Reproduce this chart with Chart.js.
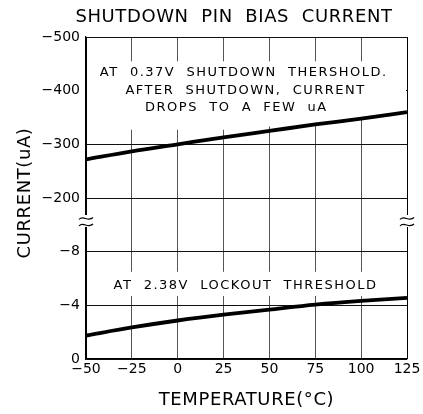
<!DOCTYPE html>
<html>
<head>
<meta charset="utf-8">
<script src="https://cdn.jsdelivr.net/npm/chart.js@4.4.1/dist/chart.umd.min.js"></script>
<style>
  html, body { margin: 0; padding: 0; background: #fff; }
  #wrap { width: 423px; height: 414px; }
</style>
</head>
<body>
<div id="wrap"><canvas id="chart" width="423" height="414"></canvas></div>
<script>
// ── data ──
const temps = [-50, -25, 0, 25, 50, 75, 100, 125];                          // °C
const shutdownCurrent = [-272, -287, -300, -313, -325, -337, -348, -360];  // uA, upper panel
const lockoutCurrent = [-1.75, -2.35, -2.87, -3.3, -3.68, -4.05, -4.33, -4.55]; // uA, lower panel
const upperRange = [-500, -200];
const lowerRange = [-12, 0];   // -12 slot is the break band, no label

const chartTitle = 'SHUTDOWN  PIN  BIAS  CURRENT';
const xTitle = 'TEMPERATURE(°C)';
const yTitle = 'CURRENT(uA)';
const shutdownNote = ['AT  0.37V  SHUTDOWN  THERSHOLD.', 'AFTER  SHUTDOWN,  CURRENT', 'DROPS  TO  A  FEW  uA'];
const lockoutNote = 'AT  2.38V  LOCKOUT  THRESHOLD';

const FONT = '"DejaVu Sans", sans-serif';
const TICK_FONT = { family: FONT, size: 14 };
const fmt = v => (v < 0 ? '\u2212' + Math.abs(v) : String(v));

// titles, notes and the axis break marks
const notesPlugin = {
    id: 'notes',
    beforeDatasetsDraw(chart) {
        const { ctx, chartArea: a, scales } = chart;
        const x = scales.x, yt = scales.yTop, yl = scales.yLow;
        ctx.save();
        ctx.fillStyle = '#fff';
        // clear grid behind the upper note
        ctx.beginPath();
        ctx.moveTo(a.left + 1, yt.getPixelForValue(-455));
        ctx.lineTo(a.right - 1, yt.getPixelForValue(-455));
        ctx.lineTo(a.right - 1, yt.getPixelForValue(-352));
        ctx.lineTo(x.getPixelForValue(25), yt.getPixelForValue(-327));
        ctx.lineTo(a.left + 1, yt.getPixelForValue(-327));
        ctx.closePath();
        ctx.fill();
        // and behind the lower note
        const t = yl.getPixelForValue(-6.5), b = yl.getPixelForValue(-4.7);
        ctx.fillRect(a.left + 1, t, a.right - a.left - 2, b - t);

        ctx.fillStyle = '#000';
        ctx.font = '13px ' + FONT;
        ctx.letterSpacing = '1.5px';
        ctx.textAlign = 'center';
        ctx.textBaseline = 'middle';
        const ux = [36, 37, 32], uy = [-433, -401, -368];
        shutdownNote.forEach((line, i) => {
            ctx.fillText(line, x.getPixelForValue(ux[i]), yt.getPixelForValue(uy[i]));
        });
        ctx.fillText(lockoutNote, x.getPixelForValue(37), yl.getPixelForValue(-5.5));
        ctx.restore();
    },
    afterDraw(chart) {
        const { ctx, chartArea: a, scales } = chart;
        ctx.save();
        ctx.fillStyle = '#000';
        ctx.textAlign = 'center';
        ctx.textBaseline = 'middle';
        ctx.font = '18px ' + FONT;
        ctx.letterSpacing = '0.6px';
        ctx.fillText(chartTitle, 234, 17);
        ctx.fillText(xTitle, (a.left + a.right) / 2, 400);
        ctx.translate(25, (a.top + a.bottom) / 2 - 5);
        ctx.rotate(-Math.PI / 2);
        ctx.fillText(yTitle, 0, 0);
        ctx.restore();

        // break marks on both borders
        const brk = scales.yLow.getPixelForValue(-12);
        ctx.save();
        ctx.strokeStyle = '#000';
        ctx.lineWidth = 1.2;
        [a.left, a.right].forEach(cx => {
            ctx.fillStyle = '#fff';
            ctx.fillRect(cx - 2, brk + 17, 4, 12);
            [brk + 20.5, brk + 27].forEach(y => {
                ctx.beginPath();
                ctx.moveTo(cx - 7, y + 1);
                ctx.bezierCurveTo(cx - 3, y - 4, cx + 2, y + 4, cx + 7, y - 1);
                ctx.stroke();
            });
        });
        ctx.restore();
    }
};

const vGrid = ctx => (ctx.tick && (ctx.tick.value === -50 || ctx.tick.value === 125) ? '#000' : '#555');

new Chart(document.getElementById('chart'), {
    type: 'line',
    data: {
        datasets: [
            {
                label: 'Shutdown threshold',
                data: temps.map((t, i) => ({ x: t, y: shutdownCurrent[i] })),
                yAxisID: 'yTop',
                borderColor: '#000', borderWidth: 3.8, pointRadius: 0,
                cubicInterpolationMode: 'monotone'
            },
            {
                label: 'Lockout threshold',
                data: temps.map((t, i) => ({ x: t, y: lockoutCurrent[i] })),
                yAxisID: 'yLow',
                borderColor: '#000', borderWidth: 3.8, pointRadius: 0,
                cubicInterpolationMode: 'monotone'
            }
        ]
    },
    options: {
        responsive: false,
        animation: false,
        devicePixelRatio: 1,
        layout: { padding: { top: 37, right: 16, left: 0, bottom: 0 } },
        plugins: { legend: { display: false }, tooltip: { enabled: false } },
        scales: {
            x: {
                type: 'linear', min: temps[0], max: temps[temps.length - 1],
                afterFit: s => { s.height = 55; },
                ticks: { stepSize: 25, color: '#000', padding: 2, font: TICK_FONT, callback: fmt, maxRotation: 0 },
                grid: { color: vGrid, lineWidth: 1, drawTicks: false },
                border: { color: '#000', width: 1.2 }
            },
            // stacked left axes are laid out bottom-up, so the lower panel comes first
            yLow: {
                type: 'linear', position: 'left', stack: 'y', stackWeight: 1,
                min: lowerRange[0], max: lowerRange[1], reverse: true,
                afterFit: s => { s.width = 86; },
                ticks: { stepSize: 4, color: '#000', padding: 6, font: TICK_FONT,
                    callback: v => (v === lowerRange[0] ? '' : fmt(v)) },
                grid: { color: c => (c.tick && c.tick.value === lowerRange[0] ? 'rgba(0,0,0,0)' : '#111'), lineWidth: 1, drawTicks: false },
                border: { color: '#000', width: 1.2 }
            },
            yTop: {
                type: 'linear', position: 'left', stack: 'y', stackWeight: 1,
                min: upperRange[0], max: upperRange[1], reverse: true,
                afterFit: s => { s.width = 86; },
                ticks: { stepSize: 100, color: '#000', padding: 6, font: TICK_FONT, callback: fmt },
                grid: { color: '#111', lineWidth: 1, drawTicks: false },
                border: { color: '#000', width: 1.2 }
            }
        }
    },
    plugins: [notesPlugin]
});
</script>
</body>
</html>
